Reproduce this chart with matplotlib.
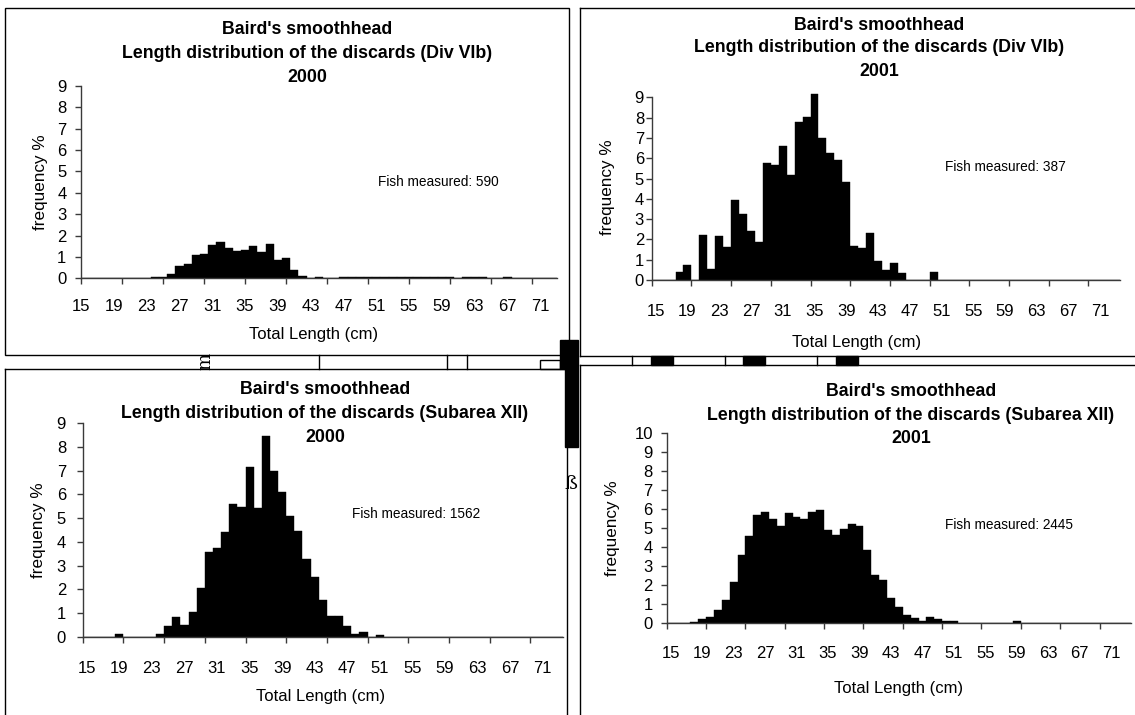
import numpy as np
import matplotlib.pyplot as plt
from matplotlib.patches import Rectangle
from matplotlib.lines import Line2D

plt.rcParams['font.family'] = ['Liberation Sans', 'DejaVu Sans']

W, H = 1135, 715

# length classes (cm) and the labelled ones
lengths = list(range(15, 74))
label_lengths = lengths[::4]

# frequency % per length class
freq_vib_2000 = [0, 0, 0, 0, 0, 0, 0, 0, 0, 0.04, 0.05, 0.22, 0.57, 0.67, 1.10, 1.13, 1.55, 1.69, 1.41, 1.29,
                 1.32, 1.50, 1.22, 1.60, 0.85, 0.95, 0.39, 0.11, 0, 0.05, 0, 0, 0.05, 0.05, 0.08, 0.08, 0.04, 0.04,
                 0.04, 0.04, 0.04, 0.04, 0.04, 0.04, 0.04, 0.04, 0, 0.04, 0.04, 0.04, 0, 0, 0.05, 0, 0, 0, 0, 0, 0]
freq_vib_2001 = [0, 0, 0, 0.39, 0.74, 0, 2.22, 0.54, 2.17, 1.63, 3.94, 3.25, 2.41, 1.87, 5.76, 5.67, 6.60, 5.17,
                 7.78, 8.03, 9.16, 7.00, 6.26, 5.91, 4.83, 1.67, 1.58, 2.32, 0.94, 0.49, 0.82, 0.33, 0, 0, 0, 0.38,
                 0, 0, 0, 0, 0, 0, 0, 0, 0, 0, 0, 0, 0, 0, 0, 0, 0, 0, 0, 0, 0, 0, 0]
freq_xii_2000 = [0, 0, 0, 0, 0.14, 0, 0, 0, 0, 0.12, 0.46, 0.84, 0.49, 1.05, 2.07, 3.59, 3.75, 4.42, 5.60, 5.46,
                 7.15, 5.43, 8.46, 6.98, 6.10, 5.09, 4.46, 3.28, 2.53, 1.55, 0.87, 0.87, 0.45, 0.14, 0.20, 0, 0.09,
                 0.02, 0.02, 0.02, 0, 0, 0, 0, 0, 0, 0, 0, 0, 0, 0, 0, 0, 0, 0, 0, 0, 0, 0]
freq_xii_2001 = [0, 0, 0, 0.05, 0.19, 0.30, 0.67, 1.20, 2.15, 3.57, 4.58, 5.69, 5.85, 5.48, 5.11, 5.79, 5.58, 5.48,
                 5.85, 5.95, 4.89, 4.63, 4.95, 5.21, 5.11, 3.84, 2.53, 2.23, 1.33, 0.84, 0.39, 0.26, 0.07, 0.30,
                 0.18, 0.09, 0.09, 0, 0, 0, 0, 0, 0, 0, 0.09, 0, 0, 0, 0, 0, 0, 0, 0, 0, 0, 0, 0, 0, 0]

fish_counts = [590, 387, 1562, 2445]
areas = ['Div VIb', 'Div VIb', 'Subarea XII', 'Subarea XII']
years = ['2000', '2001', '2000', '2001']

fig = plt.figure(figsize=(W / 100, H / 100), dpi=100)


def px(x, y):
    return x / W, 1 - y / H


def text(x, y, s, **kw):
    fig.text(*px(x, y), s, ha='center', va='center', **kw)


def hline(x0, x1, y, lw=1.0):
    fig.add_artist(Line2D([x0 / W, x1 / W], [1 - y / H, 1 - y / H], color='black', lw=lw))


def vline(x, y0, y1, lw=1.0):
    fig.add_artist(Line2D([x / W, x / W], [1 - y0 / H, 1 - y1 / H], color='black', lw=lw))


def block(x0, y0, x1, y1, fill=True):
    fig.add_artist(Rectangle(px(x0, y1), (x1 - x0) / W, (y1 - y0) / H, transform=fig.transFigure,
                             facecolor='black' if fill else 'none', edgecolor='black', lw=1))


# chart layout: axes box in pixels, text positions in pixels
charts = [
    dict(vals=freq_vib_2000, between=False, ymax=9, box=(81, 86, 556.6, 278.3),
         title_x=307, title_y=(30, 54, 77), ylab=(40.5, 182), xlab=(314, 334), fish=(438, 182),
         xpad=15.0, ypad=6.5),
    dict(vals=freq_vib_2001, between=True, ymax=9, box=(651.7, 97.3, 1120.2, 280),
         title_x=879, title_y=(25, 47, 72), ylab=(607.6, 187.5), xlab=(857, 343), fish=(1005, 167),
         xpad=17.5, ypad=1.5),
    dict(vals=freq_xii_2000, between=True, ymax=9, box=(82.7, 423, 563, 637),
         title_x=325, title_y=(389, 413, 437), ylab=(38.7, 530), xlab=(321, 696), fish=(416, 514),
         xpad=17.2, ypad=8.0),
    dict(vals=freq_xii_2001, between=True, ymax=10, box=(666.7, 433.4, 1131, 622.7),
         title_x=911, title_y=(392, 416, 439), ylab=(612.6, 528), xlab=(899, 688), fish=(1009, 525),
         xpad=16.8, ypad=6.0),
]

axis_col = '#3a3a3a'
idx = np.arange(len(lengths))
for c, n, area, yr in zip(charts, fish_counts, areas, years):
    l, t, r, b = c['box']
    ax = fig.add_axes([l / W, 1 - b / H, (r - l) / W, (b - t) / H])
    if c['between']:
        ax.bar(idx, c['vals'], width=1.0, align='edge', color='black', edgecolor='black', lw=0.3, clip_on=False)
        ax.set_xlim(0, len(lengths))
        lab_pos = [lengths.index(v) + 0.5 for v in label_lengths]
    else:
        ax.bar(idx, c['vals'], width=1.0, align='center', color='black', edgecolor='black', lw=0.3)
        ax.set_xlim(0, len(lengths) - 1)
        lab_pos = [lengths.index(v) for v in label_lengths]
    ax.xaxis.remove_overlapping_locs = False
    ax.set_ylim(0, c['ymax'])
    ax.set_yticks(range(0, c['ymax'] + 1))
    ax.set_xticks(np.arange(0, 56, 5))
    ax.set_xticklabels([])
    ax.set_xticks(lab_pos, [str(v) for v in label_lengths], minor=True)
    ax.tick_params(axis='x', which='major', length=4, width=1, color=axis_col, direction='out')
    ax.tick_params(axis='x', which='minor', length=0, pad=c['xpad'], labelsize=12)
    ax.tick_params(axis='y', length=4, width=1, color=axis_col, direction='out', pad=c['ypad'], labelsize=12)
    for s in ['top', 'right']:
        ax.spines[s].set_visible(False)
    for s in ['left', 'bottom']:
        ax.spines[s].set_color(axis_col)
        ax.spines[s].set_linewidth(1)
    ax.patch.set_alpha(0)

    ty = c['title_y']
    text(c['title_x'], ty[0], "Baird's smoothhead", fontsize=12.8, fontweight='bold')
    text(c['title_x'], ty[1], 'Length distribution of the discards (%s)' % area, fontsize=12.8, fontweight='bold')
    text(c['title_x'], ty[2], yr, fontsize=12.8, fontweight='bold')
    text(*c['ylab'], 'frequency %', fontsize=12.3, rotation=90)
    text(*c['xlab'], 'Total Length (cm)', fontsize=12)
    text(*c['fish'], 'Fish measured: %d' % n, fontsize=9.8)

# chart frames
block(5, 8, 569, 355, fill=False)
hline(580, 1135, 8)
vline(580, 8, 356)
hline(580, 1135, 356)
hline(5, 567, 369)
vline(5, 369, 715)
vline(567, 369, 715)
hline(580, 1135, 365)
vline(580, 365, 715)

# leftovers between the charts
block(565, 340, 578, 447)
block(560, 340, 565, 369)
block(540, 360, 560, 369, fill=False)
for x in [632, 725, 817, 319, 447, 467]:
    vline(x, 356 if x > 580 else 355, 365 if x > 580 else 369)
for x0 in [651, 743, 836]:
    block(x0, 356, x0 + 22, 365)
text(205, 361, 'm', fontsize=13, rotation=90, family='DejaVu Serif')
text(571, 484, 'ß', fontsize=14, family='DejaVu Serif')

fig.savefig('out.png', dpi=100)
